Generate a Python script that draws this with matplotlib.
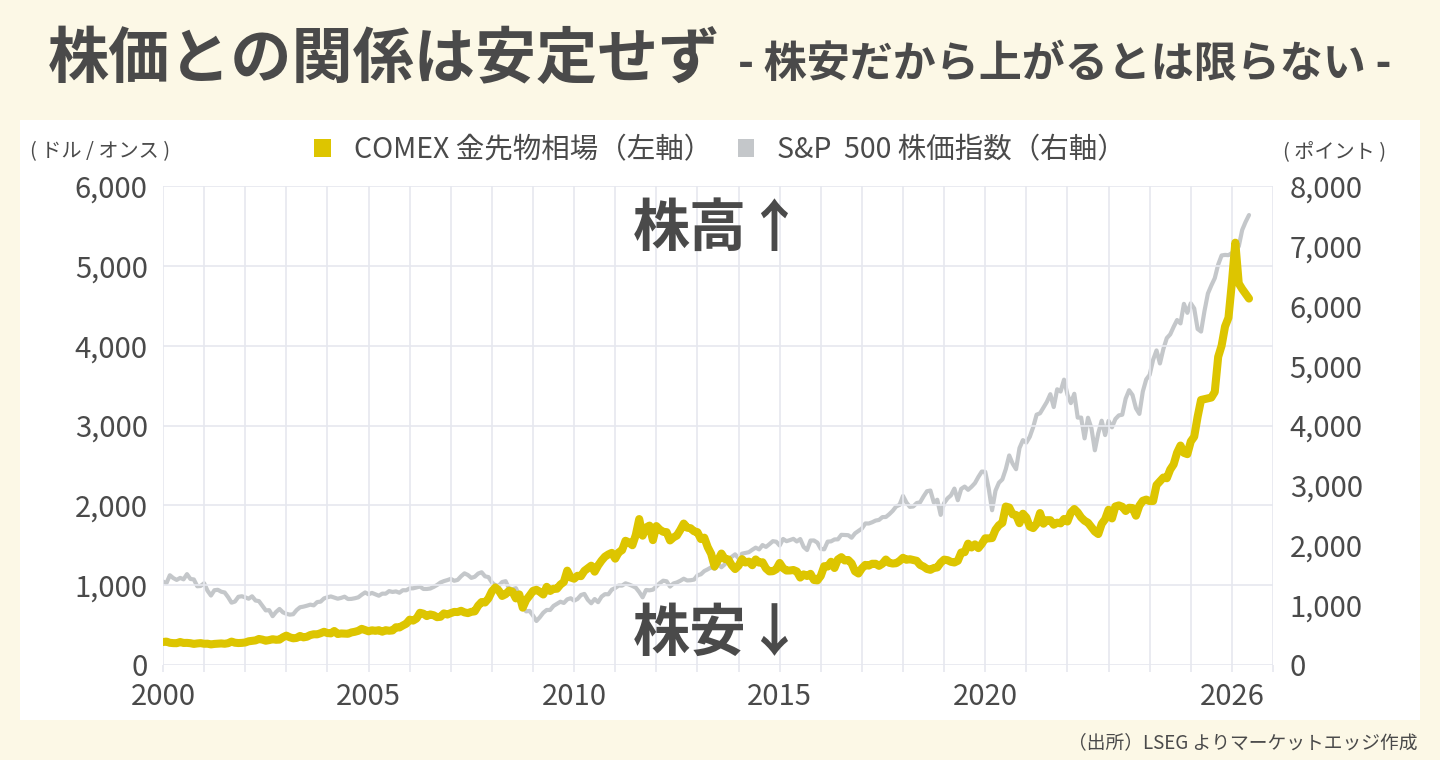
import matplotlib
matplotlib.use("Agg")
import matplotlib.pyplot as plt
import matplotlib.ticker as mticker
from matplotlib.patches import Patch, Rectangle
import numpy as np

plt.rcParams['font.family'] = ['Noto Sans CJK JP', 'DejaVu Sans']

# monthly values from Jan 2000
start_year = 2000
gold = [
    288, 293, 278, 274, 273, 288, 276, 277, 273, 264, 270, 274,        # 2000
    266, 267, 258, 264, 267, 270, 266, 273, 293, 279, 275, 277,        # 2001
    282, 297, 302, 308, 326, 318, 304, 312, 323, 316, 318, 347,        # 2002
    368, 347, 334, 339, 364, 346, 354, 375, 385, 384, 398, 416,        # 2003
    400, 396, 426, 388, 395, 393, 391, 408, 416, 428, 453, 438,        # 2004
    422, 435, 428, 436, 417, 436, 429, 433, 473, 470, 495, 517,        # 2005
    568, 556, 582, 654, 643, 613, 633, 623, 599, 604, 646, 632,        # 2006
    650, 665, 663, 679, 659, 650, 666, 672, 743, 789, 783, 834,        # 2007
    923, 971, 933, 865, 887, 930, 918, 834, 884, 718, 814, 869,        # 2008
    928, 942, 916, 883, 979, 927, 955, 955, 1007, 1040, 1182, 1096,    # 2009
    1081, 1118, 1113, 1179, 1212, 1244, 1169, 1246, 1307, 1357, 1385, 1405,  # 2010
    1332, 1410, 1439, 1556, 1536, 1500, 1628, 1828, 1620, 1722, 1746, 1564,  # 2011
    1740, 1696, 1668, 1664, 1560, 1598, 1622, 1692, 1772, 1720, 1713, 1675,  # 2012
    1664, 1578, 1595, 1476, 1393, 1234, 1313, 1396, 1327, 1323, 1250, 1202,  # 2013
    1244, 1326, 1284, 1295, 1250, 1322, 1282, 1287, 1210, 1172, 1175, 1199,  # 2014
    1278, 1213, 1183, 1184, 1190, 1172, 1095, 1135, 1115, 1142, 1065, 1060,  # 2015
    1116, 1238, 1233, 1293, 1215, 1322, 1351, 1309, 1316, 1273, 1173, 1146,  # 2016
    1211, 1254, 1245, 1268, 1268, 1242, 1269, 1321, 1280, 1271, 1275, 1303,  # 2017
    1343, 1318, 1325, 1315, 1305, 1253, 1233, 1203, 1192, 1215, 1222, 1281,  # 2018
    1320, 1313, 1292, 1284, 1305, 1409, 1413, 1520, 1472, 1511, 1464, 1517,  # 2019
    1587, 1586, 1590, 1694, 1751, 1780, 1985, 1973, 1887, 1879, 1776, 1895,  # 2020
    1848, 1734, 1715, 1768, 1903, 1770, 1814, 1814, 1757, 1783, 1774, 1829,  # 2021
    1797, 1909, 1954, 1911, 1848, 1807, 1782, 1726, 1672, 1640, 1768, 1826,  # 2022
    1945, 1836, 1986, 1999, 1982, 1929, 1970, 1966, 1870, 1996, 2057, 2072,  # 2023
    2053, 2054, 2254, 2302, 2348, 2339, 2448, 2513, 2659, 2749, 2657, 2641,  # 2024
    2800, 2860, 3110, 3320, 3330, 3340, 3350, 3420, 3860, 4000, 4240, 4350,  # 2025
    4790, 5290, 4780, 4710, 4650, 4590,                                      # 2026
]
sp500 = [
    1394, 1366, 1499, 1452, 1421, 1455, 1431, 1518, 1437, 1429, 1315, 1320,  # 2000
    1366, 1240, 1160, 1249, 1256, 1224, 1211, 1134, 1041, 1060, 1139, 1148,  # 2001
    1130, 1107, 1147, 1077, 1067, 990, 912, 916, 815, 886, 936, 880,         # 2002
    856, 841, 848, 917, 964, 975, 990, 1008, 996, 1051, 1058, 1112,          # 2003
    1131, 1145, 1126, 1107, 1121, 1141, 1102, 1104, 1115, 1130, 1174, 1212,  # 2004
    1181, 1204, 1181, 1157, 1192, 1191, 1234, 1220, 1229, 1207, 1249, 1248,  # 2005
    1280, 1281, 1295, 1311, 1270, 1270, 1277, 1304, 1336, 1378, 1401, 1418,  # 2006
    1438, 1407, 1421, 1482, 1531, 1503, 1455, 1474, 1527, 1549, 1481, 1468,  # 2007
    1379, 1331, 1323, 1386, 1400, 1280, 1267, 1283, 1166, 969, 896, 903,     # 2008
    826, 735, 798, 873, 919, 919, 987, 1021, 1057, 1036, 1096, 1115,         # 2009
    1074, 1104, 1169, 1187, 1089, 1031, 1102, 1049, 1141, 1183, 1181, 1258,  # 2010
    1286, 1327, 1326, 1364, 1345, 1321, 1292, 1219, 1131, 1253, 1247, 1258,  # 2011
    1312, 1366, 1408, 1398, 1310, 1362, 1379, 1407, 1441, 1412, 1416, 1426,  # 2012
    1498, 1515, 1569, 1598, 1631, 1606, 1686, 1633, 1682, 1757, 1806, 1848,  # 2013
    1783, 1859, 1872, 1884, 1924, 1960, 1931, 2003, 1972, 2018, 2068, 2059,  # 2014
    1995, 2105, 2068, 2086, 2107, 2063, 2104, 1972, 1920, 2079, 2080, 2044,  # 2015
    1940, 1932, 2060, 2065, 2097, 2099, 2174, 2171, 2168, 2126, 2199, 2239,  # 2016
    2279, 2364, 2363, 2384, 2412, 2423, 2470, 2472, 2519, 2575, 2648, 2674,  # 2017
    2824, 2714, 2641, 2648, 2705, 2718, 2816, 2902, 2914, 2712, 2760, 2507,  # 2018
    2704, 2784, 2834, 2946, 2752, 2942, 2980, 2926, 2977, 3038, 3141, 3231,  # 2019
    3226, 2954, 2585, 2912, 3044, 3100, 3271, 3500, 3363, 3270, 3622, 3756,  # 2020
    3714, 3811, 3973, 4181, 4204, 4298, 4395, 4523, 4308, 4605, 4567, 4766,  # 2021
    4516, 4374, 4530, 4132, 4132, 3785, 4130, 3955, 3586, 3872, 4080, 3840,  # 2022
    4077, 3970, 4109, 4169, 4180, 4450, 4589, 4508, 4288, 4194, 4568, 4770,  # 2023
    4846, 5096, 5254, 5036, 5278, 5460, 5522, 5648, 5762, 5705, 6032, 5882,  # 2024
    6041, 5955, 5612, 5569, 5912, 6205, 6339, 6460, 6688, 6840, 6849, 6845,  # 2025
    6880, 6940, 6990, 7265, 7400, 7515,                                      # 2026
]
year_labels = [2000, 2005, 2010, 2015, 2020, 2026]

BG = "#FCF8E6"
TXT = "#4A4A4A"
GOLD = "#DDC500"
GRAY = "#C4C7CA"
GRID = "#E6E8EF"

t_gold = start_year + np.arange(len(gold)) / 12
t_sp = start_year + np.arange(len(sp500)) / 12

fig = plt.figure(figsize=(14.4, 7.6), dpi=100, facecolor=BG)
fig.patches.append(Rectangle((20 / 1440, 40 / 760), 1400 / 1440, 600 / 760,
                             transform=fig.transFigure, facecolor="white",
                             edgecolor="none", zorder=-10))

ax = fig.add_axes([163 / 1440, 95 / 760, 1110 / 1440, 479 / 760])
ax2 = ax.twinx()
ax.set_zorder(ax2.get_zorder() + 1)
ax.patch.set_visible(False)
ax2.patch.set_visible(False)

ax2.plot(t_sp, sp500, color=GRAY, lw=3.0, solid_joinstyle="round", solid_capstyle="round")
ax.plot(t_gold, gold, color=GOLD, lw=5.8, solid_joinstyle="round", solid_capstyle="round")

ax.set_xlim(2000, 2027)
ax.set_ylim(0, 6000)
ax2.set_ylim(0, 8000)
ax.set_xticks(year_labels)
ax.set_xticks(range(2000, 2028), minor=True)
ax.set_yticks(range(0, 6001, 1000))
ax2.set_yticks(range(0, 8001, 1000))
ax.yaxis.set_major_formatter(mticker.StrMethodFormatter("{x:,.0f}"))
ax2.yaxis.set_major_formatter(mticker.StrMethodFormatter("{x:,.0f}"))

ax2.grid(False)
ax.grid(True, which="both", color=GRID, lw=1.2)
ax.set_axisbelow(True)
for a in (ax, ax2):
    for s in a.spines.values():
        s.set_visible(False)

ax.tick_params(axis="x", which="both", length=5, color=GRID, width=1.2,
               labelsize=21, labelcolor=TXT, pad=7)
ax.tick_params(axis="y", length=0, labelsize=21, labelcolor=TXT, pad=11)
ax2.tick_params(axis="y", length=0, labelsize=21, labelcolor=TXT, pad=12)

fig.text(30 / 1440, 1 - 152 / 760, "( ドル / オンス )", fontsize=14.5, color=TXT,
         ha="left", va="center")
fig.text(1386 / 1440, 1 - 152 / 760, "( ポイント )", fontsize=14.5, color=TXT,
         ha="right", va="center")

handles = [Patch(facecolor=GOLD, edgecolor="none"), Patch(facecolor=GRAY, edgecolor="none")]
fig.legend(handles, ["COMEX 金先物相場（左軸）", "S&P  500 株価指数（右軸）"],
           loc="center", bbox_to_anchor=(0.5, 1 - 150 / 760), ncol=2, frameon=False,
           fontsize=20.5, labelcolor=TXT, handlelength=0.58, handleheight=0.58,
           handletextpad=0.8, columnspacing=0.9)

ax.text(0.5, 0.91, "株高↑", transform=ax.transAxes, fontsize=41, fontweight="bold",
        color=TXT, ha="center", va="center")
ax.text(0.5, 0.065, "株安↓", transform=ax.transAxes, fontsize=41, fontweight="bold",
        color=TXT, ha="center", va="center")

fig.text(48 / 1440, 1 - 60 / 760, "株価との関係は安定せず", fontsize=44, fontweight="bold",
         color=TXT, ha="left", va="center")
fig.text(1392 / 1440, 1 - 64 / 760, "- 株安だから上がるとは限らない -", fontsize=31,
         fontweight="bold", color=TXT, ha="right", va="center")

fig.text(1418 / 1440, 1 - 743 / 760, "（出所）LSEG よりマーケットエッジ作成", fontsize=13.5,
         color=TXT, ha="right", va="center")

fig.savefig("out.png", dpi=100, facecolor=BG)
